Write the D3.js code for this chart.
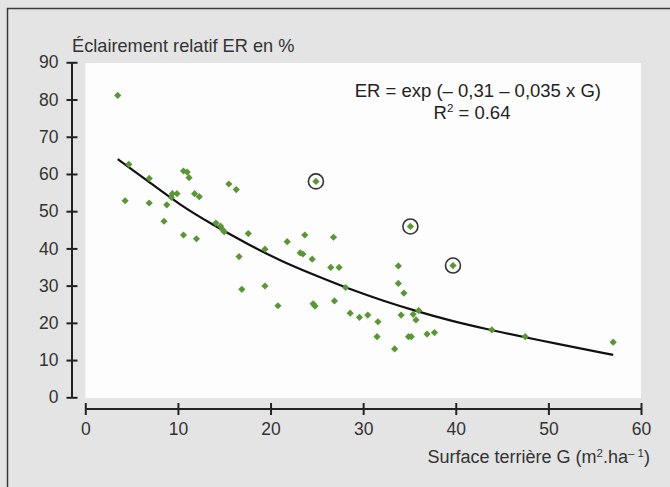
<!DOCTYPE html>
<html lang="fr">
<head>
<meta charset="utf-8">
<title>Éclairement relatif</title>
<script src="https://d3js.org/d3.v7.min.js"></script>
<style>
  body { margin: 0; background: #e4e4e4; }
  svg { display: block; font-family: "Liberation Sans", Arial, sans-serif; }
</style>
</head>
<body>
<svg width="670" height="487"></svg>
<script>
// surface terriere G (m2/ha) and eclairement relatif ER (%) of the plots
var plotG = [3.5, 4.7, 4.3, 6.9, 6.9, 8.5, 8.8, 9.3, 9.4, 9.9, 10.6, 11.0, 11.2, 10.6, 12.0,
  11.8, 12.3, 15.5, 16.3, 14.1, 14.6, 14.8, 15.0, 17.6, 16.6, 16.9, 19.4, 19.4, 20.8, 21.8,
  23.2, 23.5, 23.7, 24.5, 24.6, 24.8, 26.8, 26.5, 27.4, 28.1, 26.9, 28.6, 29.6, 30.5, 31.6,
  31.5, 33.4, 33.8, 33.8, 34.4, 34.1, 35.4, 36.0, 35.7, 34.9, 35.2, 36.9, 37.7, 43.9, 47.5, 57.0];
var plotER = [81.1, 62.6, 52.8, 58.8, 52.2, 47.3, 51.7, 53.7, 54.7, 54.7, 60.8, 60.5, 59.0, 43.6, 42.6,
  54.7, 53.9, 57.3, 55.8, 46.8, 46.0, 45.1, 44.5, 44.0, 37.8, 29.0, 39.8, 29.9, 24.6, 41.8,
  38.8, 38.5, 43.6, 37.1, 25.1, 24.5, 43.0, 34.9, 34.9, 29.5, 25.9, 22.6, 21.5, 22.1, 20.3,
  16.3, 13.0, 35.3, 30.6, 28.0, 22.1, 22.3, 23.3, 20.8, 16.3, 16.3, 17.0, 17.4, 18.1, 16.3, 14.8];

// circled plots
var outG = [24.9, 35.1, 39.7];
var outER = [58.0, 45.9, 35.4];

// fitted curve as drawn
var fitG = [3.5, 6.6, 10.2, 13.8, 17.5, 21.2, 25, 28.6, 32.2, 35.8, 39.4, 43, 48.6, 57];
var fitER = [64, 58.4, 51.7, 46.3, 41.2, 36.5, 32.6, 29.0, 25.9, 23.1, 20.6, 18.5, 15.5, 11.4];

var xTicks = [0, 10, 20, 30, 40, 50, 60];
var yTicks = [0, 10, 20, 30, 40, 50, 60, 70, 80, 90];

var svg = d3.select("svg");

var x = d3.scaleLinear().domain([0, 60]).range([85.3, 641]);
var y = d3.scaleLinear().domain([0, 90]).range([397.3, 62.3]);

// frame
svg.append("rect").attr("width", 670).attr("height", 487).attr("fill", "#e4e4e4");
svg.append("path")
    .attr("d", "M7.5,487V8.5H670")
    .attr("fill", "none").attr("stroke", "#3a3a3a").attr("stroke-width", 1.5);

// plot area
svg.append("rect")
    .attr("x", x(0)).attr("y", y(90) + 0.7)
    .attr("width", x(60) - x(0)).attr("height", y(0) - y(90))
    .attr("fill", "#fdfdfd");

// y axis
var yAxis = svg.append("g")
    .attr("transform", "translate(77.5,0)")
    .call(d3.axisLeft(y).tickValues(yTicks).tickSizeInner(11).tickSizeOuter(0).tickPadding(8));
yAxis.select(".domain").remove();
svg.append("line")
    .attr("x1", 72).attr("x2", 72).attr("y1", y(90)).attr("y2", y(0));

// x axis
var xAxis = svg.append("g")
    .attr("transform", "translate(0,403)")
    .call(d3.axisBottom(x).tickValues(xTicks).tickSizeInner(12).tickSizeOuter(0).tickPadding(8));
xAxis.select(".domain").remove();
svg.append("line")
    .attr("x1", x(0)).attr("x2", x(60)).attr("y1", 409).attr("y2", 409);

svg.selectAll("line").attr("stroke", "#222").attr("stroke-width", 2);
svg.selectAll(".tick text")
    .attr("font-size", 17.5).attr("fill", "#333")
    .attr("font-family", "Liberation Sans, Arial, sans-serif");

// titles
svg.append("text")
    .attr("x", 72).attr("y", 52)
    .attr("font-size", 18.2).attr("fill", "#333")
    .text("Éclairement relatif ER en %");

var xt = svg.append("text")
    .attr("x", 650).attr("y", 463)
    .attr("text-anchor", "end")
    .attr("font-size", 18).attr("fill", "#333");
xt.append("tspan").text("Surface terrière G (m");
xt.append("tspan").attr("font-size", 11.5).attr("dy", -6).text("2");
xt.append("tspan").attr("dy", 6).text(".ha");
xt.append("tspan").attr("font-size", 11.5).attr("dy", -6).text("– 1");
xt.append("tspan").attr("dy", 6).text(")");

// equation
svg.append("text")
    .attr("x", 601).attr("y", 97)
    .attr("text-anchor", "end")
    .attr("font-size", 18.5).attr("fill", "#222")
    .text("ER = exp (– 0,31 – 0,035 x G)");
var r2 = svg.append("text")
    .attr("x", 472).attr("y", 119)
    .attr("text-anchor", "middle")
    .attr("font-size", 18.5).attr("fill", "#222");
r2.append("tspan").text("R");
r2.append("tspan").attr("font-size", 11.5).attr("dy", -7).text("2");
r2.append("tspan").attr("dy", 7).text(" = 0.64");

// fitted curve
var fit = fitG.map(function(g, i) { return [g, fitER[i]]; });
svg.append("path")
    .datum(fit)
    .attr("fill", "none").attr("stroke", "#111").attr("stroke-width", 2.2)
    .attr("d", d3.line()
        .x(function(d) { return x(d[0]); })
        .y(function(d) { return y(d[1]); })
        .curve(d3.curveBasis));

// points
var pts = plotG.map(function(g, i) { return [g, plotER[i]]; })
    .concat(outG.map(function(g, i) { return [g, outER[i]]; }));
var diamond = d3.symbol().type(d3.symbolSquare).size(26);
svg.selectAll(".pt")
    .data(pts)
    .enter().append("path")
    .attr("class", "pt")
    .attr("d", diamond)
    .attr("transform", function(d) { return "translate(" + x(d[0]) + "," + y(d[1]) + ") rotate(45)"; })
    .attr("fill", "#5a9636");

svg.selectAll(".ring")
    .data(outG)
    .enter().append("circle")
    .attr("class", "ring")
    .attr("cx", function(d) { return x(d); })
    .attr("cy", function(d, i) { return y(outER[i]); })
    .attr("r", 7.5)
    .attr("fill", "none").attr("stroke", "#333").attr("stroke-width", 1.6);
</script>
</body>
</html>
